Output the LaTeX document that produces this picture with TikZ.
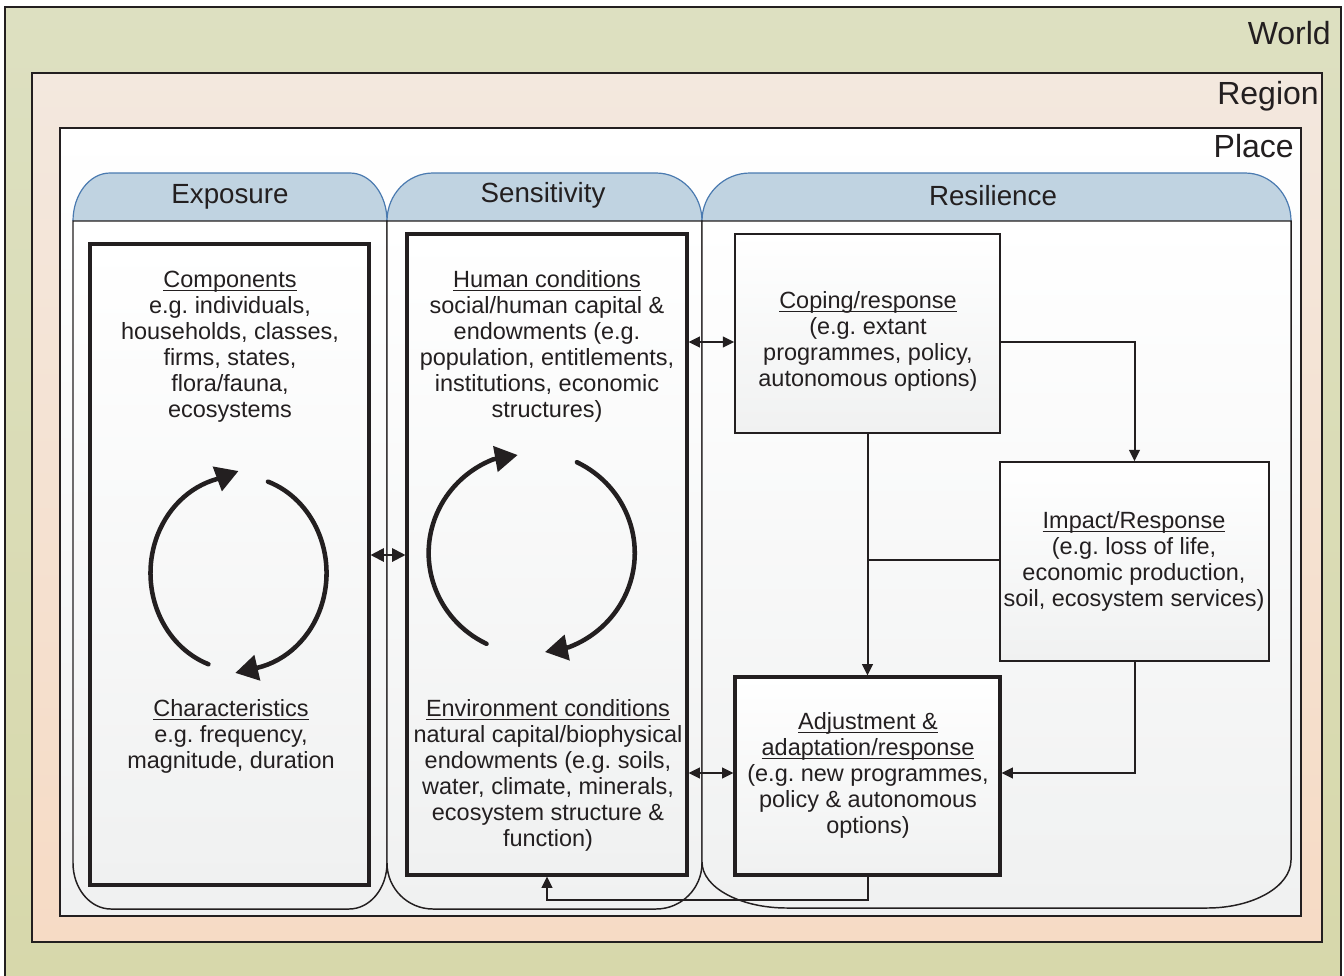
\documentclass[tikz,border=0pt]{standalone}
\usepackage{fontspec}
\setmainfont{Liberation Sans}
\usetikzlibrary{arrows.meta,fit}
\definecolor{worldtop}{HTML}{DDE0C1}
\definecolor{worldbot}{HTML}{D7D8AB}
\definecolor{regtop}{HTML}{F3E8DE}
\definecolor{regbot}{HTML}{F6DBC5}
\definecolor{boxbot}{HTML}{F0F1F1}
\definecolor{tabfill}{HTML}{C0D3E1}
\definecolor{tabline}{HTML}{4A7AB0}
\definecolor{ink}{HTML}{231F20}
\newcommand{\uhead}[1]{\setbox0\hbox{#1}\rlap{\rule[-2.8pt]{\wd0}{0.8pt}}\box0}
\frenchspacing
\tikzset{
 body/.style={draw=ink, line width=1.1pt, top color=white, bottom color=boxbot},
 tabshape/.style={fill=tabfill, draw=tabline, line width=0.9pt},
 thickbox/.style={draw=ink, line width=2.3pt, top color=white, bottom color=boxbot, inner sep=0pt},
 thinbox/.style={draw=ink, line width=1.1pt, top color=white, bottom color=boxbot, inner sep=0pt},
 txt/.style={text=ink, align=center, font=\fontsize{17.6}{19.5}\selectfont\frenchspacing, inner sep=0pt},
 tabtitle/.style={text=ink, font=\fontsize{20.8}{24}\selectfont, inner sep=0pt, anchor=base},
 scaletitle/.style={text=ink, font=\fontsize{24}{28}\selectfont, inner sep=0pt, anchor=base east},
 flow/.style={draw=ink, line width=1.5pt, -{Triangle[length=8.5pt,width=8pt]}},
 link/.style={draw=ink, line width=1.5pt},
 twoway/.style={draw=ink, line width=1.5pt, {Triangle[length=8.5pt,width=8pt]}-{Triangle[length=8.5pt,width=8pt]}},
 twowaybig/.style={draw=ink, line width=1.5pt, {Triangle[length=10pt,width=10pt]}-{Triangle[length=10pt,width=10pt]}},
 cycle arrow/.style={draw=ink, line width=3.4pt, line cap=round, -{Triangle[length=17pt,width=19pt]}},
}
\begin{document}
\begin{tikzpicture}[x=0.75pt,y=-0.75pt]
\useasboundingbox (0,0) rectangle (1344,975);
% nested scales
\shade[top color=worldtop, bottom color=worldbot] (5,7) rectangle (1341,976);
\draw[ink, line width=1.2pt] (5,976) -- (5,7) -- (1341,7) -- (1341,976);
\draw[ink, line width=1.2pt, top color=regtop, bottom color=regbot] (32,73) rectangle (1322,942);
\draw[ink, line width=1.5pt, top color=white, bottom color=boxbot] (60,128) rectangle (1301,916);
\node[scaletitle] (world) at (1331,44.5) {World};
\node[scaletitle] (region) at (1319,104.5) {Region};
\node[scaletitle] (place) at (1294,157.5) {Place};
% tabs
\path[tabshape] (73,221) .. controls (73,194.5) and (89.6,173) .. (110,173) -- (350,173) .. controls (370.4,173) and (387,194.5) .. (387,221);
\path[tabshape] (387,221) .. controls (387,194.5) and (407.6,173) .. (433,173) -- (656,173) .. controls (681.4,173) and (702,194.5) .. (702,221);
\path[tabshape] (702,221) .. controls (702,194.5) and (723.5,173) .. (750,173) -- (1245,173) .. controls (1270.4,173) and (1291,194.5) .. (1291,221);
% panel bodies
\path[body] (73,221) -- (73,863) .. controls (73,888.4) and (90,909) .. (111,909) -- (349,909) .. controls (370,909) and (387,888.4) .. (387,863) -- (387,221) -- cycle;
\path[body] (387,221) -- (387,863) .. controls (387,888.4) and (407.6,909) .. (433,909) -- (656,909) .. controls (681.4,909) and (702,888.4) .. (702,863) -- (702,221) -- cycle;
\path[body] (702,221) -- (702,862) .. controls (702,887.4) and (740,908) .. (787,908) -- (1207,908) .. controls (1253.4,908) and (1291,886.5) .. (1291,860) -- (1291,221) -- cycle;
\node[tabtitle] (texp) at (230,203) {Exposure};
\node[tabtitle] (tsens) at (543,202) {Sensitivity};
\node[tabtitle] (tres) at (993,205) {Resilience};
% boxes
\node[thickbox, fit={(90,244) (369,885)}] (expbox) {};
\node[thickbox, fit={(407,234) (687,875)}] (sensbox) {};
\node[thinbox, fit={(735,234) (1000,433)}] (cop) {};
\node[thinbox, fit={(1000,462) (1269,661)}] (imp) {};
\node[thickbox, fit={(735,677) (1000,875)}] (adj) {};
% connectors
\draw[twowaybig] (expbox.east |- 0,555) -- (sensbox.west |- 0,555);
\draw[twoway] (sensbox.east |- 0,342) -- (cop.west |- 0,342);
\draw[twoway] (sensbox.east |- 0,773) -- (adj.west |- 0,773);
\draw[flow] (cop.east |- 0,342) -| (imp.north);
\draw[flow] (cop.south) -- (adj.north);
\draw[link] (imp.west |- 0,560) -- (cop.south |- 0,560);
\draw[flow] (imp.south) |- (adj.east |- 0,773);
\draw[flow] (adj.south) |- (sensbox.south |- 0,900) -- (sensbox.south);
% cycle arrows
\draw[cycle arrow] (208.4,664.2) arc[start angle=250, end angle=104, x radius=66pt, y radius=72.75pt] -- (238.5,471);
\draw[cycle arrow] (267.9,481.6) arc[start angle=70.5, end angle=-78, x radius=66pt, y radius=72.75pt] -- (235.3,672.9);
\draw[cycle arrow] (486.5,643.8) arc[start angle=244, end angle=112, x radius=77.25pt, y radius=75.75pt] -- (517.7,455);
\draw[cycle arrow] (576.9,462.2) arc[start angle=64, end angle=-69, x radius=77.25pt, y radius=75.75pt] -- (545,652);
% texts
\node[txt] (comp) at (230,346.5) {\uhead{Components}\\e.g. individuals,\\households, classes,\\firms, states,\\flora/fauna,\\ecosystems};
\node[txt] (char) at (231,736) {\uhead{Characteristics}\\e.g. frequency,\\magnitude, duration};
\node[txt] (human) at (547,346.5) {\uhead{Human conditions}\\social/human capital \&\\endowments (e.g.\\population, entitlements,\\institutions, economic\\structures)};
\node[txt] (env) at (548,775.5) {\uhead{Environment conditions}\\natural capital/biophysical\\endowments (e.g. soils,\\water, climate, minerals,\\ecosystem structure \&\\function)};
\node[txt] (copt) at (868,341) {\uhead{Coping/response}\\(e.g. extant\\programmes, policy,\\autonomous options)};
\node[txt] (impt) at (1134,561.5) {\uhead{Impact/Response}\\(e.g. loss of life,\\economic production,\\soil, ecosystem services)};
\node[txt] (adjt) at (868,775.5) {\uhead{Adjustment \&}\\\uhead{adaptation/response}\\(e.g. new programmes,\\policy \& autonomous\\options)};
\end{tikzpicture}
\end{document}
